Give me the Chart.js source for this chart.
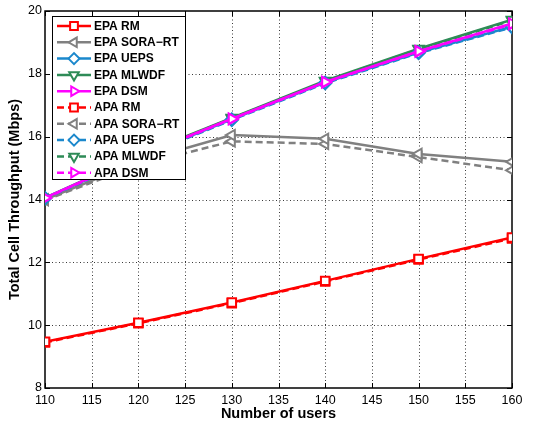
<!DOCTYPE html>
<html>
<head>
<meta charset="utf-8">
<script src="https://cdn.jsdelivr.net/npm/chart.js@4/dist/chart.umd.min.js"></script>
<style>
html, body { margin: 0; padding: 0; background: #fff; }
#wrap { width: 535px; height: 428px; }
</style>
</head>
<body>
<div id="wrap"><canvas id="chart"></canvas></div>
<script>
const users = [110, 120, 130, 140, 150, 160];

const epaRM    = [9.47, 10.08, 10.72, 11.41, 12.11, 12.79];
const epaSora  = [14.00, 15.20, 16.05, 15.93, 15.45, 15.20];
const epaUeps  = [14.05, 15.35, 16.55, 17.72, 18.68, 19.50];
const epaMlwdf = [14.05, 15.40, 16.60, 17.78, 18.80, 19.72];
const epaDsm   = [14.05, 15.38, 16.57, 17.74, 18.72, 19.60];

const apaRM    = [9.45, 10.06, 10.70, 11.39, 12.09, 12.76];
const apaSora  = [13.98, 15.10, 15.85, 15.77, 15.35, 14.93];
const apaUeps  = [14.03, 15.33, 16.53, 17.70, 18.66, 19.48];
const apaMlwdf = [14.04, 15.38, 16.58, 17.76, 18.78, 19.70];
const apaDsm   = [14.04, 15.36, 16.56, 17.73, 18.71, 19.58];

const xTicks = [110, 115, 120, 125, 130, 135, 140, 145, 150, 155, 160];
const yTicks = [8, 10, 12, 14, 16, 18, 20];

const RED = '#ff0000', GRAY = '#808080', BLUE = '#1b88cc', GREEN = '#2e8b57', MAG = '#ff00ff';

function series(label, values, color, style, rotation, dashed, order) {
    return {
        label: label,
        data: users.map((u, i) => ({ x: u, y: values[i] })),
        borderColor: color,
        backgroundColor: color,
        borderWidth: 2.5,
        borderDash: dashed ? [7, 4] : [],
        pointStyle: style,
        rotation: rotation,
        pointRadius: 6,
        pointBorderWidth: 2,
        pointBackgroundColor: '#fff',
        pointBorderColor: color,
        tension: 0,
        order: order
    };
}

const datasets = [
    series('EPA RM', epaRM, RED, 'rect', 0, false, 0),
    series('EPA SORA\u2212RT', epaSora, GRAY, 'triangle', -90, false, 5),
    series('EPA UEPS', epaUeps, BLUE, 'rectRot', 0, false, 3),
    series('EPA MLWDF', epaMlwdf, GREEN, 'triangle', 180, false, 4),
    series('EPA DSM', epaDsm, MAG, 'triangle', 90, false, 1),
    series('APA RM', apaRM, RED, 'rect', 0, true, 0),
    series('APA SORA\u2212RT', apaSora, GRAY, 'triangle', -90, true, 5),
    series('APA UEPS', apaUeps, BLUE, 'rectRot', 0, true, 3),
    series('APA MLWDF', apaMlwdf, GREEN, 'triangle', 180, true, 4),
    series('APA DSM', apaDsm, MAG, 'triangle', 90, true, 2)
];

// dotted grid, box round the plot and inward tick marks, like matlab
const frame = {
    id: 'frame',
    beforeDatasetsDraw(chart) {
        const { ctx, chartArea: a, scales } = chart;
        ctx.save();
        ctx.strokeStyle = '#3a3a3a';
        ctx.lineWidth = 1;
        ctx.setLineDash([1, 2.5]);
        ctx.beginPath();
        xTicks.slice(1, -1).forEach(v => {
            const px = Math.round(scales.x.getPixelForValue(v)) + 0.5;
            ctx.moveTo(px, a.bottom); ctx.lineTo(px, a.top);
        });
        yTicks.slice(1, -1).forEach(v => {
            const py = Math.round(scales.y.getPixelForValue(v)) + 0.5;
            ctx.moveTo(a.left, py); ctx.lineTo(a.right, py);
        });
        ctx.stroke();
        ctx.setLineDash([]);
        ctx.strokeStyle = '#000';
        ctx.beginPath();
        xTicks.forEach(v => {
            const px = Math.round(scales.x.getPixelForValue(v)) + 0.5;
            ctx.moveTo(px, a.bottom); ctx.lineTo(px, a.bottom - 5);
            ctx.moveTo(px, a.top); ctx.lineTo(px, a.top + 5);
        });
        yTicks.forEach(v => {
            const py = Math.round(scales.y.getPixelForValue(v)) + 0.5;
            ctx.moveTo(a.left, py); ctx.lineTo(a.left + 5, py);
            ctx.moveTo(a.right, py); ctx.lineTo(a.right - 5, py);
        });
        ctx.stroke();
        ctx.lineWidth = 1.5;
        ctx.strokeRect(a.left, a.top, a.right - a.left, a.bottom - a.top);
        ctx.restore();
    }
};

// legend with line + marker samples
const boxLegend = {
    id: 'boxLegend',
    afterDraw(chart) {
        const { ctx, chartArea: a } = chart;
        const left = a.left + 7, top = a.top + 5;
        const w = 133, rowH = 16.3, h = 163;
        ctx.save();
        ctx.fillStyle = '#fff';
        ctx.fillRect(left, top, w, h);
        ctx.strokeStyle = '#000';
        ctx.lineWidth = 1;
        ctx.strokeRect(left + 0.5, top + 0.5, w, h);
        ctx.font = 'bold 12px "Liberation Sans", Arial, Helvetica, sans-serif';
        ctx.textBaseline = 'middle';
        datasets.forEach((ds, i) => {
            const cy = top + 10 + i * rowH;
            const x0 = left + 5, x1 = left + 39, cx = (x0 + x1) / 2;
            ctx.strokeStyle = ds.borderColor;
            ctx.lineWidth = 2.5;
            ctx.setLineDash(ds.borderDash);
            ctx.beginPath();
            ctx.moveTo(x0, cy); ctx.lineTo(x1, cy);
            ctx.stroke();
            ctx.setLineDash([]);
            ctx.fillStyle = '#fff';
            ctx.lineWidth = 2;
            Chart.helpers.drawPoint(ctx, {
                pointStyle: ds.pointStyle,
                rotation: ds.rotation,
                radius: 5.5,
                borderWidth: 2
            }, cx, cy);
            ctx.fillStyle = '#000';
            ctx.fillText(ds.label, left + 42, cy + 0.5);
        });
        ctx.restore();
    }
};

const fontFamily = '"Liberation Sans", Arial, Helvetica, sans-serif';
const noGrid = { drawOnChartArea: false, drawTicks: false };

new Chart(document.getElementById('chart').getContext('2d'), {
    type: 'line',
    data: { datasets: datasets },
    options: {
        responsive: true,
        maintainAspectRatio: false,
        animation: false,
        layout: { padding: { top: 11, right: 23, left: 0, bottom: 0 } },
        plugins: {
            legend: { display: false },
            tooltip: { enabled: false }
        },
        scales: {
            x: {
                type: 'linear',
                min: 110,
                max: 160,
                afterFit: s => { s.height = 40; },
                afterBuildTicks: s => { s.ticks = xTicks.map(v => ({ value: v })); },
                grid: noGrid,
                border: { display: false },
                ticks: {
                    color: '#000',
                    padding: 5,
                    maxRotation: 0,
                    font: { family: fontFamily, size: 12.5 }
                },
                title: {
                    display: true,
                    text: 'Number of users',
                    color: '#000',
                    padding: { top: 0, bottom: 5 },
                    font: { family: fontFamily, size: 14.5, weight: 'bold' }
                }
            },
            y: {
                min: 8,
                max: 20,
                afterFit: s => { s.width = 45; },
                afterBuildTicks: s => { s.ticks = yTicks.map(v => ({ value: v })); },
                grid: noGrid,
                border: { display: false },
                ticks: {
                    color: '#000',
                    padding: 3,
                    font: { family: fontFamily, size: 12.5 }
                },
                title: {
                    display: true,
                    text: 'Total Cell Throughput (Mbps)',
                    color: '#000',
                    padding: { top: 6, bottom: 0 },
                    font: { family: fontFamily, size: 14.5, weight: 'bold' }
                }
            }
        }
    },
    plugins: [frame, boxLegend]
});
</script>
</body>
</html>
